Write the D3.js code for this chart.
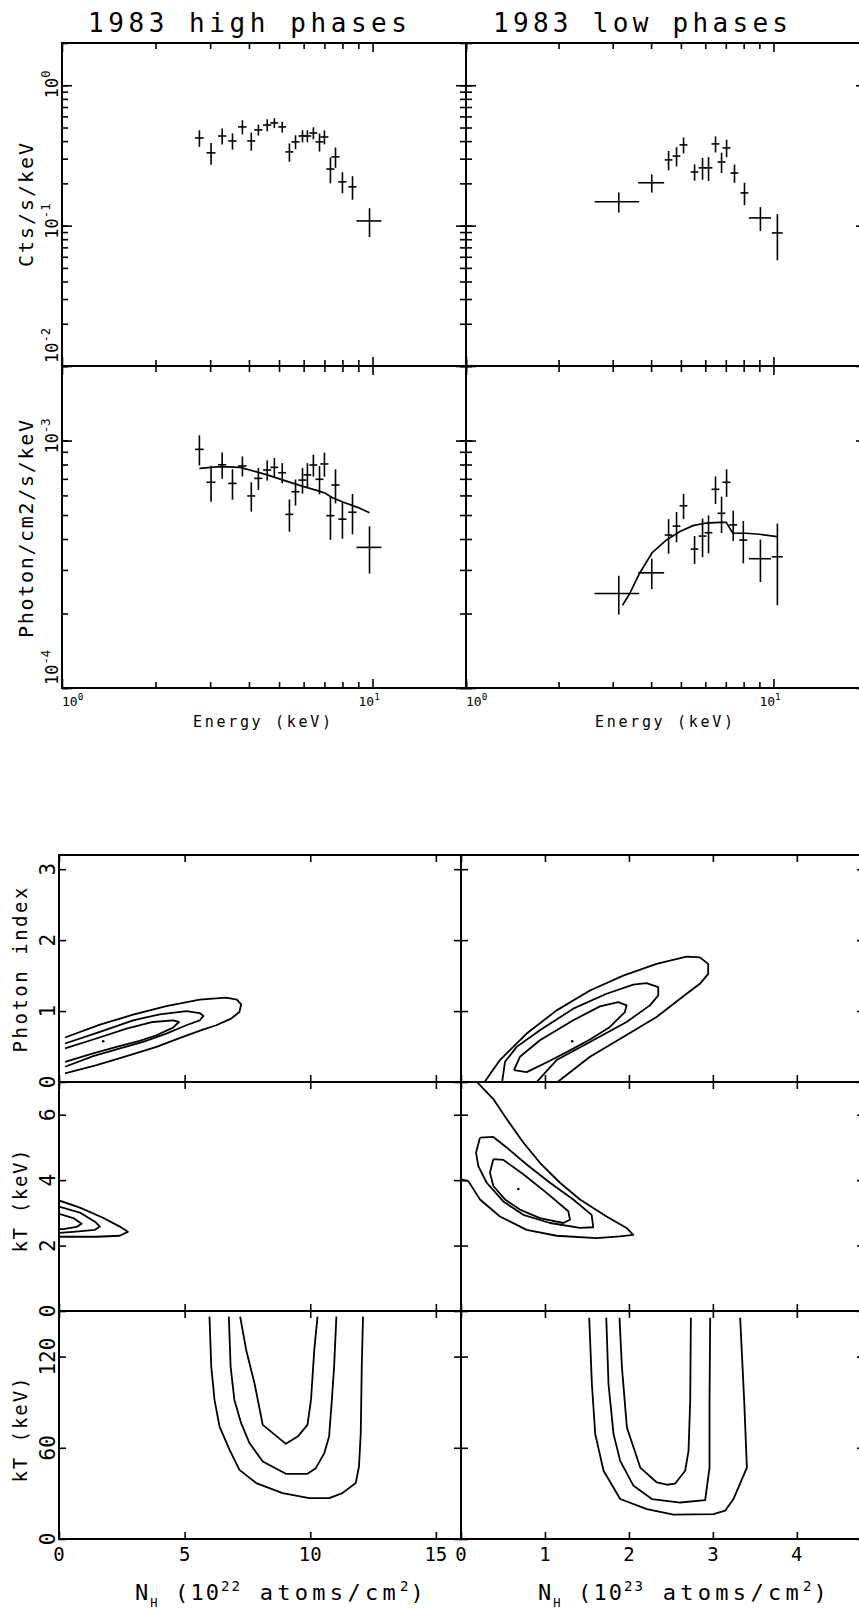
<!DOCTYPE html>
<html>
<head>
<meta charset="utf-8">
<script src="https://cdn.jsdelivr.net/npm/d3@7"></script>
<style>
  body { margin: 0; background: #fff; }
  text { font-family: "DejaVu Sans Mono", monospace; fill: #000; }
</style>
</head>
<body>
<svg id="chart" width="859" height="1610"></svg>
<script>
// ---- spectra: [energy keV, half bin width, value, error] ----
const hiCounts = [
  [2.77, 0.09, 0.421, 0.057], [3.02, 0.10, 0.330, 0.058], [3.28, 0.10, 0.435, 0.057],
  [3.54, 0.11, 0.401, 0.053], [3.81, 0.12, 0.505, 0.058], [4.07, 0.12, 0.401, 0.059],
  [4.29, 0.13, 0.481, 0.043], [4.58, 0.14, 0.521, 0.051], [4.83, 0.14, 0.539, 0.044],
  [5.12, 0.15, 0.505, 0.045], [5.40, 0.16, 0.335, 0.050], [5.65, 0.17, 0.395, 0.045],
  [5.95, 0.18, 0.435, 0.043], [6.17, 0.18, 0.435, 0.043], [6.45, 0.19, 0.457, 0.045],
  [6.75, 0.20, 0.395, 0.058], [7.00, 0.21, 0.428, 0.049], [7.32, 0.22, 0.253, 0.053],
  [7.60, 0.23, 0.309, 0.051], [8.00, 0.24, 0.205, 0.035], [8.62, 0.26, 0.189, 0.036],
  [9.78, 0.90, 0.108, 0.025]
]
const loCounts = [
  [3.14, 0.52, 0.148, 0.024], [4.02, 0.39, 0.202, 0.030], [4.56, 0.13, 0.294, 0.046],
  [4.84, 0.14, 0.313, 0.049], [5.10, 0.15, 0.376, 0.049], [5.54, 0.16, 0.241, 0.032],
  [5.88, 0.17, 0.258, 0.046], [6.15, 0.18, 0.258, 0.050], [6.48, 0.19, 0.382, 0.050],
  [6.78, 0.20, 0.284, 0.047], [7.04, 0.21, 0.358, 0.051], [7.47, 0.22, 0.237, 0.035],
  [8.05, 0.24, 0.171, 0.031], [9.07, 0.75, 0.1135, 0.022], [10.30, 0.42, 0.0887, 0.032]
]
const hiPhotons = [
  [2.77, 0.09, 9.21e-4, 1.29e-4], [3.02, 0.10, 6.78e-4, 1.13e-4], [3.28, 0.10, 7.98e-4, 0.97e-4],
  [3.54, 0.11, 6.71e-4, 0.94e-4], [3.81, 0.12, 7.89e-4, 0.73e-4], [4.07, 0.12, 5.97e-4, 0.81e-4],
  [4.29, 0.13, 7.03e-4, 0.72e-4], [4.58, 0.14, 7.60e-4, 0.71e-4], [4.83, 0.14, 7.79e-4, 0.72e-4],
  [5.12, 0.15, 7.41e-4, 0.69e-4], [5.40, 0.16, 5.03e-4, 0.75e-4], [5.65, 0.17, 6.21e-4, 0.75e-4],
  [5.95, 0.18, 6.92e-4, 0.82e-4], [6.17, 0.18, 7.26e-4, 0.84e-4], [6.45, 0.19, 7.96e-4, 0.81e-4],
  [6.75, 0.20, 6.97e-4, 0.91e-4], [7.00, 0.21, 8.04e-4, 0.90e-4], [7.32, 0.22, 4.97e-4, 1.00e-4],
  [7.60, 0.23, 6.61e-4, 1.04e-4], [8.00, 0.24, 4.81e-4, 0.80e-4], [8.62, 0.26, 5.13e-4, 0.95e-4],
  [9.78, 0.90, 3.70e-4, 0.80e-4]
]
const loPhotons = [
  [3.14, 0.52, 2.41e-4, 0.43e-4], [4.02, 0.39, 2.92e-4, 0.41e-4], [4.56, 0.13, 4.15e-4, 0.66e-4],
  [4.84, 0.14, 4.51e-4, 0.63e-4], [5.10, 0.15, 5.45e-4, 0.64e-4], [5.54, 0.16, 3.64e-4, 0.47e-4],
  [5.88, 0.17, 4.11e-4, 0.73e-4], [6.15, 0.18, 4.24e-4, 0.74e-4], [6.48, 0.19, 6.35e-4, 0.81e-4],
  [6.78, 0.20, 5.08e-4, 0.85e-4], [7.04, 0.21, 6.78e-4, 0.86e-4], [7.40, 0.22, 4.56e-4, 0.64e-4],
  [7.98, 0.24, 3.96e-4, 0.77e-4], [9.07, 0.75, 3.33e-4, 0.65e-4], [10.30, 0.42, 3.39e-4, 1.23e-4]
]
// model curves: [energy, photon flux]
const hiModel = [
  [2.77, 7.72e-4], [3.23, 7.84e-4], [3.75, 7.79e-4], [4.13, 7.53e-4], [4.58, 7.26e-4],
  [5.16, 6.92e-4], [5.86, 6.57e-4], [6.65, 6.27e-4], [7.05, 6.12e-4], [7.43, 5.87e-4],
  [8.06, 5.63e-4], [8.95, 5.37e-4], [9.78, 5.11e-4]
]
const loModel = [
  [3.23, 2.16e-4], [3.41, 2.41e-4], [3.67, 2.91e-4], [4.03, 3.52e-4], [4.48, 3.96e-4],
  [4.95, 4.28e-4], [5.47, 4.53e-4], [6.04, 4.64e-4], [6.68, 4.67e-4], [7.02, 4.67e-4],
  [7.38, 4.22e-4], [8.15, 4.22e-4], [9.01, 4.18e-4], [10.28, 4.09e-4]
]

// ---- confidence contours: [NH, parameter], outer -> inner ----
const hiGammaContours = [
  [[0.24, 0.627], [1.63, 0.809], [2.95, 0.949], [4.27, 1.07], [5.60, 1.16], [6.65, 1.19], [7.08, 1.16],
   [7.25, 1.094], [7.18, 0.986], [6.85, 0.893], [6.26, 0.80], [5.73, 0.739], [4.93, 0.635], [3.88, 0.495],
   [2.69, 0.365], [1.50, 0.238], [0.24, 0.122]],
  [[0.24, 0.543], [1.63, 0.706], [2.95, 0.87], [4.01, 0.954], [5.07, 1.0], [5.60, 0.972], [5.75, 0.93],
   [5.60, 0.87], [5.07, 0.80], [4.27, 0.683], [3.35, 0.565], [2.29, 0.459], [1.36, 0.365], [0.24, 0.215]],
  [[0.24, 0.473], [1.36, 0.599], [2.69, 0.753], [3.74, 0.846], [4.54, 0.87], [4.77, 0.846], [4.54, 0.767],
   [3.88, 0.659], [3.21, 0.579], [2.29, 0.495], [1.36, 0.402], [0.24, 0.285]]
]
const loGammaContours = [
  [[0.28, 0], [0.464, 0.309], [0.782, 0.683], [1.139, 1.01], [1.536, 1.29], [1.932, 1.50], [2.329, 1.665],
   [2.687, 1.767], [2.845, 1.757], [2.944, 1.665], [2.944, 1.525], [2.845, 1.384], [2.687, 1.244],
   [2.329, 0.916], [1.932, 0.635], [1.536, 0.355], [1.15, 0]],
  [[0.49, 0], [0.524, 0.285], [0.663, 0.495], [0.940, 0.729], [1.337, 1.034], [1.734, 1.244], [2.052, 1.374],
   [2.210, 1.393], [2.349, 1.337], [2.349, 1.22], [2.25, 1.08], [1.972, 0.846], [1.536, 0.565],
   [1.139, 0.309], [0.90, 0]],
  [[0.631, 0.168], [0.702, 0.355], [0.940, 0.589], [1.337, 0.87], [1.655, 1.066], [1.873, 1.126],
   [1.972, 1.08], [1.952, 0.986], [1.774, 0.776], [1.536, 0.60], [1.337, 0.47], [1.06, 0.30],
   [0.782, 0.14], [0.631, 0.168]]
]
const hiKTLowContours = [
  [[0, 3.38], [0.83, 3.16], [1.75, 2.85], [2.42, 2.58], [2.74, 2.42], [2.42, 2.30], [1.51, 2.27], [0, 2.27]],
  [[0, 3.19], [0.83, 3.01], [1.43, 2.73], [1.63, 2.58], [1.43, 2.48], [0.56, 2.42], [0, 2.39]],
  [[0, 2.97], [0.57, 2.84], [0.90, 2.67], [0.70, 2.57], [0.17, 2.50], [0, 2.50]]
]
const loKTLowContours = [
  [[0.19, 7.0], [0.385, 6.48], [0.544, 5.87], [0.742, 5.15], [0.940, 4.53], [1.179, 3.92], [1.417, 3.41],
   [1.734, 2.89], [1.972, 2.54], [2.052, 2.33], [1.893, 2.28], [1.615, 2.23], [1.139, 2.30], [0.782, 2.48],
   [0.464, 2.89], [0.226, 3.41], [0.087, 3.97], [0, 4.02]],
  [[0.226, 5.30], [0.385, 5.32], [0.544, 5.0], [0.782, 4.48], [1.06, 3.92], [1.337, 3.41], [1.556, 2.94],
   [1.575, 2.56], [1.417, 2.54], [1.06, 2.69], [0.742, 2.94], [0.504, 3.35], [0.306, 3.92], [0.206, 4.43],
   [0.179, 4.84], [0.226, 5.30]],
  [[0.385, 4.64], [0.504, 4.62], [0.742, 4.18], [1.020, 3.61], [1.278, 3.05], [1.298, 2.79], [1.218, 2.69],
   [0.940, 2.84], [0.702, 3.10], [0.524, 3.41], [0.385, 3.82], [0.345, 4.23], [0.385, 4.64]]
]
const hiKTHighContours = [
  [[5.99, 146.3], [6.06, 113.4], [6.19, 91.5], [6.39, 74.0], [6.79, 58.7], [7.18, 45.5], [7.85, 36.8],
   [8.90, 30.2], [9.96, 26.9], [10.75, 26.9], [11.28, 30.2], [11.81, 36.8], [11.94, 47.7], [12.01, 69.6],
   [12.05, 113.4], [12.10, 146.3]],
  [[6.76, 146.3], [6.83, 113.4], [6.98, 91.5], [7.25, 76.2], [7.58, 63.1], [8.11, 51.0], [9.03, 42.9],
   [9.89, 42.9], [10.22, 46.6], [10.56, 56.5], [10.75, 67.4], [10.86, 91.5], [10.95, 113.4], [11.04, 146.3]],
  [[7.21, 146.3], [7.45, 124.4], [7.78, 102.5], [8.11, 75.1], [9.03, 62.6], [9.50, 67.4], [9.89, 75.1],
   [10.03, 91.5], [10.16, 124.4], [10.29, 146.3]]
]
const loKTHighContours = [
  [[1.527, 145.6], [1.559, 101.8], [1.599, 69.0], [1.698, 44.9], [1.896, 26.3], [2.214, 19.7], [2.531, 16.0],
   [3.007, 16.4], [3.146, 18.6], [3.245, 26.3], [3.405, 47.0], [3.373, 90.9], [3.325, 145.6]],
  [[1.730, 145.6], [1.757, 101.8], [1.817, 69.0], [1.896, 51.4], [2.055, 35.0], [2.274, 26.3], [2.611, 24.0],
   [2.908, 25.6], [2.960, 47.0], [2.960, 90.9], [2.968, 145.6]],
  [[1.888, 145.6], [1.917, 112.7], [1.976, 73.3], [2.135, 47.0], [2.333, 37.2], [2.452, 35.7], [2.551, 36.5],
   [2.670, 44.9], [2.710, 58.0], [2.730, 90.9], [2.738, 145.6]]
]
const hiGammaBest = [1.76, 0.575]
const loGammaBest = [1.325, 0.575]
const loKTLowBest = [0.683, 3.73]

// ---- tick values ----
const energyLabels = [1, 10]
const countLabels = [0.01, 0.1, 1]
const photonLabels = [1e-4, 1e-3]
const gammaTicks = [0, 1, 2, 3]
const kTLowTicks = [0, 2, 4, 6]
const kTHighTicks = [0, 60, 120]
const nh22Ticks = [0, 5, 10, 15]
const nh23Ticks = [0, 1, 2, 3, 4]

const svg = d3.select('#chart')
svg.append('rect').attr('width', 859).attr('height', 1610).attr('fill', '#fff')

// scales
const eLeft = d3.scaleLog().domain([1, 20]).range([62, 466])
const eRight = d3.scaleLog().domain([1, 20]).range([466, 866])
const yCounts = d3.scaleLog().domain([0.01, 2]).range([366, 43])
const yPhoton = d3.scaleLog().domain([1e-4, 2e-3]).range([688, 366])
const nhLeft = d3.scaleLinear().domain([0, 16]).range([59, 461])
const nhRight = d3.scaleLinear().domain([0, 4.8]).range([461, 864])
const yGamma = d3.scaleLinear().domain([0, 3.2]).range([1082, 855])
const yKTLow = d3.scaleLinear().domain([0, 7]).range([1311, 1082])
const yKTHigh = d3.scaleLinear().domain([0, 150]).range([1539, 1311])

let clipCount = 0

// frame with inward ticks on all four sides
function frame (x, y, xTicks, yTicks) {
  const [x0, x1] = x.range()
  const [yb, yt] = y.range()
  const g = svg.append('g')
  const put = (axis, scale, vals, size, tr) => g.append('g').attr('transform', tr)
    .call(axis(scale).tickValues(vals).tickSize(-size).tickFormat(''))
    .call(a => {
      a.select('.domain').remove()
      a.selectAll('line').attr('stroke', '#000').attr('stroke-width', 1.6)
    })
  xTicks.forEach(([vals, len]) => {
    put(d3.axisTop, x, vals, len, `translate(0,${yt})`)
    put(d3.axisBottom, x, vals, len, `translate(0,${yb})`)
  })
  yTicks.forEach(([vals, len]) => {
    put(d3.axisLeft, y, vals, len, `translate(${x0},0)`)
    put(d3.axisRight, y, vals, len, `translate(${x1},0)`)
  })
  g.append('rect').attr('x', x0).attr('y', yt).attr('width', x1 - x0).attr('height', yb - yt)
    .attr('fill', 'none').attr('stroke', '#000').attr('stroke-width', 2)
}

function clipped (x, y) {
  const [x0, x1] = x.range()
  const [yb, yt] = y.range()
  const id = 'clip' + (clipCount++)
  svg.append('clipPath').attr('id', id).append('rect')
    .attr('x', x0).attr('y', yt).attr('width', x1 - x0).attr('height', yb - yt)
  return svg.append('g').attr('clip-path', `url(#${id})`)
}

function spectrum (x, y, pts, model) {
  const g = clipped(x, y)
  g.selectAll('.xerr').data(pts).join('line').attr('class', 'xerr')
    .attr('x1', d => x(d[0] - d[1])).attr('x2', d => x(d[0] + d[1]))
    .attr('y1', d => y(d[2])).attr('y2', d => y(d[2]))
  g.selectAll('.yerr').data(pts).join('line').attr('class', 'yerr')
    .attr('x1', d => x(d[0])).attr('x2', d => x(d[0]))
    .attr('y1', d => y(d[2] - d[3])).attr('y2', d => y(d[2] + d[3]))
  g.selectAll('line').attr('stroke', '#000').attr('stroke-width', 1.6)
  if (model) {
    g.append('path').datum(model)
      .attr('d', d3.line().x(d => x(d[0])).y(d => y(d[1])))
      .attr('fill', 'none').attr('stroke', '#000').attr('stroke-width', 1.7)
  }
}

function contours (x, y, levels, best) {
  const g = clipped(x, y)
  const line = d3.line().x(d => x(d[0])).y(d => y(d[1]))
  g.selectAll('path').data(levels).join('path')
    .attr('d', line).attr('fill', 'none').attr('stroke', '#000')
    .attr('stroke-width', 1.8).attr('stroke-linejoin', 'round')
  if (best) g.append('circle').attr('cx', x(best[0])).attr('cy', y(best[1])).attr('r', 1.3).attr('fill', '#000')
}

function vtext (x, y, str, size, anchor, len) {
  const t = svg.append('text').attr('transform', `translate(${x},${y}) rotate(-90)`)
    .attr('font-size', size).attr('text-anchor', anchor).text(str)
  if (len) t.attr('textLength', len).attr('lengthAdjust', 'spacing')
  return t
}
function htext (x, y, str, size, anchor, len) {
  const t = svg.append('text').attr('x', x).attr('y', y)
    .attr('font-size', size).attr('text-anchor', anchor).text(str)
  if (len) t.attr('textLength', len).attr('lengthAdjust', 'spacing')
  return t
}
// "10" with a raised exponent
function powerText (t, v, size) {
  t.attr('font-size', size).text('10')
  t.append('tspan').attr('font-size', size * 0.72).attr('dy', -size * 0.45)
    .text(String(Math.round(Math.log10(v))))
  return t
}

// ===== upper block: spectra =====
const eMinor = eLeft.ticks().filter(v => !energyLabels.includes(v))
const topX = [[eMinor, 6], [energyLabels, 9]]
const countY = [[yCounts.ticks(), 6], [countLabels, 10]]
const photonY = [[yPhoton.ticks(), 6], [photonLabels, 10]]

spectrum(eLeft, yCounts, hiCounts)
spectrum(eRight, yCounts, loCounts)
spectrum(eLeft, yPhoton, hiPhotons, hiModel)
spectrum(eRight, yPhoton, loPhotons, loModel)
frame(eLeft, yCounts, topX, countY)
frame(eRight, yCounts, topX, countY)
frame(eLeft, yPhoton, topX, photonY)
frame(eRight, yPhoton, topX, photonY)

htext(88, 32, '1983 high phases', 26, 'start', 319)
htext(493, 32, '1983 low phases', 26, 'start', 295)

// y tick labels (rotated, reading upward)
const logYLabel = (y, v, bottom) => {
  const t = svg.append('text')
    .attr('transform', `translate(58,${bottom ? y(v) - 3 : y(v) + 13}) rotate(-90)`)
  powerText(t, v, 17)
}
countLabels.forEach(v => logYLabel(yCounts, v, v === yCounts.domain()[0]))
photonLabels.forEach(v => logYLabel(yPhoton, v, v === yPhoton.domain()[0]))
vtext(33, 205, 'Cts/s/keV', 20, 'middle', 124)
vtext(33, 529, 'Photon/cm2/s/keV', 20, 'middle', 218)

// energy tick labels + axis titles
;[eLeft, eRight].forEach(x => {
  energyLabels.forEach((v, i) => {
    powerText(svg.append('text').attr('x', x(v) - (i ? 14 : 0)).attr('y', 706), v, 13)
  })
  const [x0, x1] = x.range()
  htext((x0 + x1) / 2 - 2, 727, 'Energy (keV)', 15, 'middle', 138)
})

// ===== lower block: confidence contours =====
contours(nhLeft, yGamma, hiGammaContours, hiGammaBest)
contours(nhRight, yGamma, loGammaContours, loGammaBest)
contours(nhLeft, yKTLow, hiKTLowContours)
contours(nhRight, yKTLow, loKTLowContours, loKTLowBest)
contours(nhLeft, yKTHigh, hiKTHighContours)
contours(nhRight, yKTHigh, loKTHighContours)

const leftX = [[nh22Ticks, 7]]
const rightX = [[nh23Ticks, 7]]
;[[yGamma, gammaTicks], [yKTLow, kTLowTicks], [yKTHigh, kTHighTicks]].forEach(([y, t]) => {
  frame(nhLeft, y, leftX, [[t, 7]])
  frame(nhRight, y, rightX, [[t, 7]])
  t.forEach(v => vtext(55, y(v), String(v), 21, 'middle'))
})

vtext(27, 970, 'Photon index', 19, 'middle', 165)
vtext(27, 1201, 'kT (keV)', 19, 'middle', 103)
vtext(27, 1430, 'kT (keV)', 19, 'middle', 105)

nh22Ticks.forEach(v => htext(nhLeft(v), 1561, String(v), 19, 'middle'))
nh23Ticks.forEach(v => htext(nhRight(v), 1561, String(v), 19, 'middle'))

function nhLabel (x0, exp) {
  const t = svg.append('text').attr('x', x0).attr('y', 1600).attr('font-size', 22)
    .attr('letter-spacing', '2.1px')
  t.append('tspan').text('N')
  t.append('tspan').attr('font-size', 12).attr('dy', 7).text('H')
  t.append('tspan').attr('dy', -7).text('  (10')
  t.append('tspan').attr('font-size', 14).attr('dy', -9).text(exp)
  t.append('tspan').attr('dy', 9).attr('letter-spacing', '4.3px').text(' atoms/cm')
  t.append('tspan').attr('font-size', 14).attr('dy', -9).text('2')
  t.append('tspan').attr('dy', 9).text(')')
}
nhLabel(135, '22')
nhLabel(538, '23')
</script>
</body>
</html>
